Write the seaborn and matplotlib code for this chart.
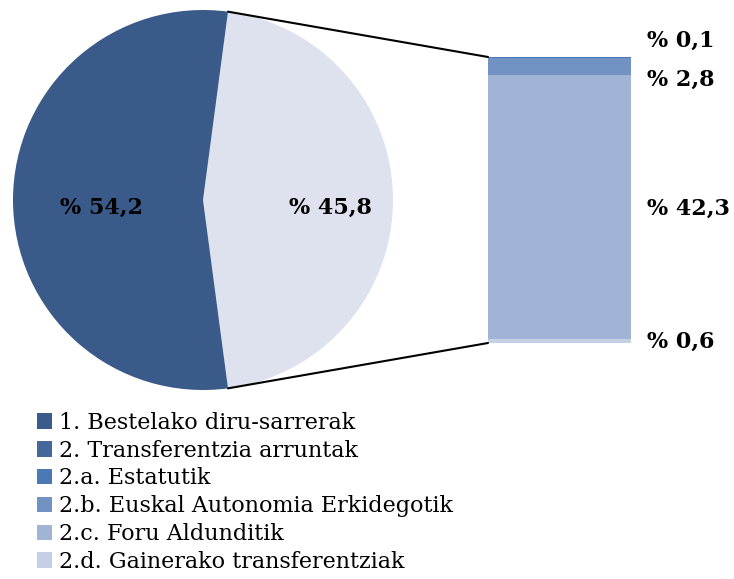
import matplotlib
matplotlib.use("Agg")
from matplotlib import pyplot as plt
from matplotlib.patches import Patch, ConnectionPatch
import numpy as np
import seaborn as sns

# pie: 1. vs 2.
pie_labels = ["1. Bestelako diru-sarrerak", "2. Transferentzia arruntak"]
pie_values = [54.2, 45.8]

# bar: breakdown of 2. (bottom to top)
bar_labels = ["2.d. Gainerako transferentziak", "2.c. Foru Aldunditik",
              "2.b. Euskal Autonomia Erkidegotik", "2.a. Estatutik"]
bar_values = [0.6, 42.3, 2.8, 0.1]

legend_labels = ["1. Bestelako diru-sarrerak", "2. Transferentzia arruntak",
                 "2.a. Estatutik", "2.b. Euskal Autonomia Erkidegotik",
                 "2.c. Foru Aldunditik", "2.d. Gainerako transferentziak"]
legend_colors = ["#3b5b8a", "#44689c", "#4b79b6", "#7292c4", "#a2b4d6", "#c5cfe5"]

pie_colors = ["#3a5a89", "#dde2ee"]
bar_colors = ["#c5cfe5", "#a2b4d6", "#7292c4", "#4b79b6"]


def fmt(v):
    return "% " + f"{v:.1f}".replace(".", ",")


sns.set_style("white")
plt.rcParams["font.family"] = ["DejaVu Serif"]
plt.rcParams["text.color"] = "black"

W, H = 734, 579
fig = plt.figure(figsize=(W / 100, H / 100), dpi=100)


def px_axes(x0, y0, x1, y1):
    return fig.add_axes([x0 / W, 1 - y1 / H, (x1 - x0) / W, (y1 - y0) / H])


# pie
ax_pie = px_axes(13, 10, 393, 390)
half = pie_values[1] / 100 * 360 / 2
ax_pie.pie(pie_values[::-1], colors=pie_colors[::-1], startangle=-half,
           counterclock=True, radius=1, wedgeprops=dict(linewidth=0))
ax_pie.set_xlim(-1, 1)
ax_pie.set_ylim(-1, 1)
ax_pie.set_aspect("auto")
ax_pie.axis("off")
ax_pie.text(-0.535, -0.04, fmt(pie_values[0]), ha="center", va="center",
            fontsize=16, fontweight="bold")
ax_pie.text(0.67, -0.04, fmt(pie_values[1]), ha="center", va="center",
            fontsize=16, fontweight="bold")

# stacked bar
ax_bar = px_axes(488, 57, 631, 343)
bottom = 0
for v, c in zip(bar_values, bar_colors):
    sns.barplot(x=[0], y=[v], bottom=bottom, color=c, width=1.0,
                saturation=1, ax=ax_bar, native_scale=True, linewidth=0)
    bottom += v
ax_bar.set_xlim(-0.5, 0.5)
ax_bar.set_ylim(0, sum(bar_values))
ax_bar.axis("off")

# value labels at the right of the bar
label_y = {0.1: 41, 2.8: 80, 42.3: 209, 0.6: 342}
for v in bar_values:
    fig.text(647 / W, 1 - label_y[v] / H, fmt(v), ha="left", va="center",
             fontsize=16, fontweight="bold")

# connector lines
ang = np.deg2rad(half)
for sgn, yb in [(1, sum(bar_values)), (-1, 0)]:
    con = ConnectionPatch(xyA=(np.cos(ang), sgn * np.sin(ang)), coordsA=ax_pie.transData,
                          xyB=(-0.5, yb), coordsB=ax_bar.transData,
                          color="black", lw=1.5)
    fig.add_artist(con)

# legend
handles = [Patch(facecolor=c, edgecolor="none") for c in legend_colors]
fig.legend(handles, legend_labels, loc="upper left",
           bbox_to_anchor=(28 / W, 1 - 403 / H), frameon=False,
           fontsize=16, handlelength=0.68, handleheight=0.68,
           handletextpad=0.3, labelspacing=0.26, borderaxespad=0)

fig.savefig("out.png", dpi=100)
